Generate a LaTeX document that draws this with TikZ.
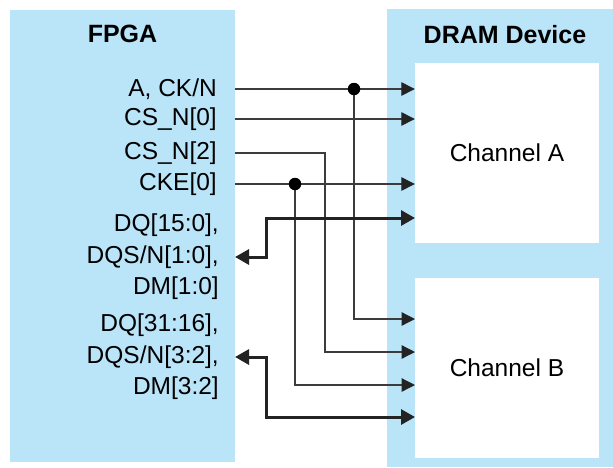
\documentclass[tikz,border=0pt]{standalone}
\usepackage{fontspec}
\setmainfont{Liberation Sans}
\usepackage{tikz}
\usetikzlibrary{arrows.meta,positioning}
\definecolor{chipblue}{RGB}{186,228,248}
\definecolor{wiregray}{RGB}{60,60,60}
\definecolor{busblack}{RGB}{35,35,35}

\begin{document}
\begin{tikzpicture}[x=1pt,y=-1pt,
    blk/.style={fill=chipblue,inner sep=0pt},
    chan/.style={fill=white,inner sep=0pt,minimum width=184pt,minimum height=180pt,font=\fontsize{24.5}{29}\selectfont},
    title/.style={inner sep=0pt,font=\fontsize{25}{30}\selectfont\bfseries},
    lbl/.style={inner sep=0pt,align=right,font=\fontsize{24.5}{31.5}\selectfont},
    sig/.style={-{Triangle[length=13.5pt,width=13.5pt,color=busblack]},line width=1.3pt,wiregray},
    bus/.style={{Triangle[length=14pt,width=15pt]}-{Triangle[length=14pt,width=15pt]},line width=3pt,busblack},
    dot/.style={circle,fill=black,inner sep=0pt,minimum size=12.5pt}
]
\useasboundingbox (0,0) rectangle (613,467);
% blocks
\node[blk,minimum width=225pt,minimum height=452pt] (fpga) at (122.5,236) {};
\node[blk,minimum width=226pt,minimum height=458pt] (dram) at (500,238) {};
\node[chan] (chanA) at (507,153) {Channel A};
\node[chan] (chanB) at (507,368) {Channel B};
\node[title,below=15.5pt of fpga.north] (fpgaT) {FPGA};
\node[title] (dramT) at (505,0 |- fpgaT) {DRAM Device};

% pins
\coordinate (pA) at (235,89);
\coordinate (pCS0) at (235,119);
\coordinate (pCS2) at (235,153);
\coordinate (pCKE) at (235,184);
\coordinate (pDQa) at (235,257);
\coordinate (pDQb) at (235,357);
\coordinate (a4) at (415,218);
\coordinate (b1) at (415,319);
\coordinate (b2) at (415,352);
\coordinate (b3) at (415,385);
\coordinate (b4) at (415,417);
\coordinate (tapA) at (354,89);
\coordinate (tapC) at (295,184);

\node[lbl,left=18pt of pA] (lA) {A, CK/N};
\node[lbl,left=18pt of pCS0] (lCS0) {CS\_N[0]};
\node[lbl,left=18pt of pCS2] (lCS2) {CS\_N[2]};
\node[lbl,left=18pt of pCKE] (lCKE) {CKE[0]};
\node[lbl,left=16pt of pDQa] (lDQa) {DQ[15:0],\\DQS/N[1:0],\\DM[1:0]};
\node[lbl,left=16pt of pDQb] (lDQb) {DQ[31:16],\\DQS/N[3:2],\\DM[3:2]};

% wires
\draw[sig] (pA) -- (chanA.west |- pA);
\draw[sig] (pCS0) -- (chanA.west |- pCS0);
\draw[sig] (pCKE) -- (chanA.west |- pCKE);
\draw[sig] (tapA) |- (b1);
\draw[sig] (pCS2) -- ++(90,0) |- (b2);
\draw[sig] (tapC) |- (b3);
\node[dot] (dA) at (tapA) {};
\node[dot] (dC) at (tapC) {};
\draw[bus] (pDQa) -- ++(31,0) |- (a4);
\draw[bus] (pDQb) -- ++(31,0) |- (b4);
\end{tikzpicture}
\end{document}
